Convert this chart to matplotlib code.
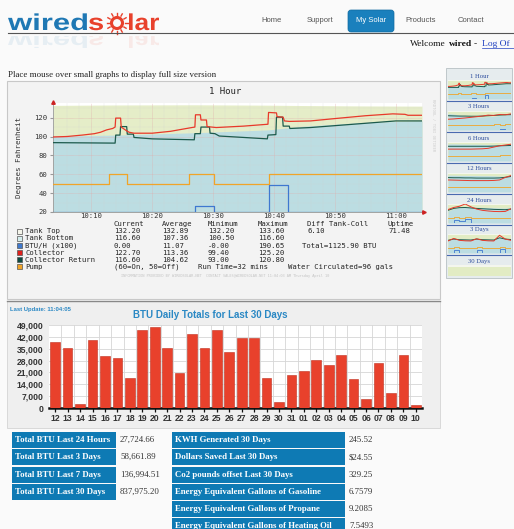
import numpy as np
import matplotlib.pyplot as plt
from matplotlib.patches import Rectangle, FancyBboxPatch, Circle, PathPatch
from matplotlib.textpath import TextPath
from matplotlib.font_manager import FontProperties
from matplotlib.transforms import Affine2D

W, H = 514, 529

# ---- 1 hour graph (minutes after 10:00, degrees F)
t_collector = [3.7, 6, 8.5, 10.5, 11.5, 12.5, 13.5, 13.9, 14.0, 14.8, 14.9, 15.8, 16.2, 17, 20, 23,
               26.5, 27.0, 27.1, 27.9, 28.0, 28.9, 29.0, 30.5, 35, 39, 39.1, 40.4, 40.5, 41.5, 41.7,
               42.5, 46, 50, 55, 59.5, 61.5, 62, 64.3]
collector = [99.5, 100, 101.5, 103, 104.5, 107, 108.5, 110, 119.5, 119.5, 110, 106, 104.5, 103.5, 103.5,
             105.5, 109.5, 110, 123, 123, 117.5, 117.5, 110.5, 109.5, 111, 113, 125.5, 125, 121, 120.5,
             116.5, 116, 116.5, 119, 122, 124, 123.5, 122.5, 122.5]
t_return = [3.7, 13.9, 14.0, 14.7, 14.8, 15.8, 15.9, 16.9, 17, 20, 26.9, 27.0, 27.9, 28.0, 29.4, 29.5,
            30.3, 31, 35, 38.9, 39.0, 40.3, 40.4, 41.4, 41.5, 42.5, 42.6, 46, 50, 55, 60, 64.3]
coll_return = [93.5, 93, 101.5, 101.5, 110.5, 110.5, 102.5, 102.5, 99, 97.5, 96.5, 103, 103, 110, 110,
               103.5, 103, 100.5, 99, 97.5, 101.5, 102, 120.5, 120.5, 111, 111, 108.5, 109.5, 111.5,
               114, 116.5, 116.5]
t_pump = [3.7, 12.9, 15.9, 26.0, 30.2, 39.2, 64.3]
pump = [50, 60, 50, 60, 50, 60, 60]
t_btu = [3.7, 27.0, 30.2, 39.1, 42.3, 64.3]
btu = [20.5, 26.7, 20.5, 48.4, 20.5, 20.5]
t_tank = [3.7, 14, 27, 39, 45, 55, 64.3]
tank_top = [133.0, 133.4, 133.6, 133.2, 132.8, 132.4, 132.2]
tank_bottom = [100.5, 101.5, 104, 107, 111, 115, 116.6]
hour_ticks = [10, 20, 30, 40, 50, 60]
hour_labels = ['10:10', '10:20', '10:30', '10:40', '10:50', '11:00']
deg_ticks = [20, 40, 60, 80, 100, 120]

legend_names = ['Tank Top', 'Tank Bottom', 'BTU/H (x100)', 'Collector', 'Collector Return', 'Pump']
legend_colors = ['#f4f4ea', '#d4ecec', '#3f78cc', '#e0201c', '#0c4a40', '#f0a428']
col_current = ['132.20', '116.60', '0.00', '122.70', '116.60']
col_average = ['132.89', '107.36', '11.07', '113.36', '104.62']
col_minimum = ['132.20', '100.50', '-0.00', '99.40', '93.00']
col_maximum = ['133.60', '116.60', '190.65', '125.20', '120.80']

# ---- daily totals
days = ['12', '13', '14', '15', '16', '17', '18', '19', '20', '21', '22', '23', '24', '25', '26',
        '27', '28', '29', '30', '31', '01', '02', '03', '04', '05', '06', '07', '08', '09', '10']
btu_daily = [39200, 35700, 2350, 40000, 30600, 29800, 17600, 46300, 47800, 35700, 20400, 43900,
             35300, 46300, 33300, 41600, 41600, 18000, 3500, 19600, 22000, 28600, 25100, 31000,
             16900, 5500, 26300, 8600, 31400, 1600]

# ---- summary tables
left_labels = ['Total BTU Last 24 Hours', 'Total BTU Last 3 Days', 'Total BTU Last 7 Days',
               'Total BTU Last 30 Days']
left_values = ['27,724.66', '58,661.89', '136,994.51', '837,975.20']
right_labels = ['KWH Generated 30 Days', 'Dollars Saved Last 30 Days', 'Co2 pounds offset Last 30 Days',
                'Energy Equivalent Gallons of Gasoline', 'Energy Equivalent Gallons of Propane',
                'Energy Equivalent Gallons of Heating Oil']
right_values = ['245.52', '$24.55', '329.25', '6.7579', '9.2085', '7.5493']

# ---- thumbnails (rough readings)
thumb_titles = ['1 Hour', '3 Hours', '6 Hours', '12 Hours', '24 Hours', '3 Days', '30 Days']
th3h_red = [88, 90, 93, 96, 100, 104, 108, 114, 112, 118, 116, 122]
th3h_ret = [110, 109, 108, 108, 107, 107, 108, 110, 112, 114, 116, 117]
th3h_bot = [124, 120, 114, 108, 104, 102, 102, 104, 107, 110, 114, 117]
th3h_pump = [50, 50, 50, 50, 50, 50, 50, 50, 56, 50, 60, 60]
th3h_btu = [20, 20, 20, 20, 20, 20, 20, 20, 20, 26, 20, 40]
th6h_red = [95, 95, 95, 95, 95, 96, 97, 100, 108, 116, 121, 126]
th6h_ret = [113, 113, 113, 113, 113, 113, 113, 113, 114, 116, 117, 118]
th6h_bot = [128, 128, 127, 127, 126, 126, 125, 124, 122, 120, 118, 117]
th6h_pump = [50, 50, 50, 50, 50, 50, 50, 50, 52, 55, 58, 60]
th6h_btu = [20, 20, 20, 20, 20, 20, 20, 20, 20, 20, 22, 40]
th12h_red = [96, 95, 94, 93, 92, 92, 92, 92, 93, 96, 112, 124]
th12h_ret = [111, 110, 110, 109, 109, 108, 108, 108, 108, 109, 113, 118]
th12h_bot = [126, 126, 125, 125, 124, 124, 123, 123, 122, 120, 118, 117]
th12h_pump = [50, 50, 50, 50, 50, 50, 50, 50, 50, 50, 54, 60]
th12h_btu = [20, 20, 20, 20, 20, 20, 20, 20, 20, 20, 20, 38]
th24h_red = [105, 118, 126, 140, 122, 108, 100, 96, 93, 92, 93, 110]
th24h_ret = [100, 112, 117, 118, 115, 112, 110, 108, 106, 105, 104, 108]
th24h_bot = [96, 110, 118, 120, 120, 119, 118, 117, 116, 115, 114, 116]
th24h_pump = [50, 60, 50, 60, 50, 50, 50, 50, 50, 50, 50, 60]
th24h_btu = [20, 40, 34, 46, 20, 20, 20, 20, 20, 20, 20, 24]
th3d_red = [96, 112, 100, 97, 96, 110, 100, 97, 96, 132, 108, 100]
th3d_ret = [100, 108, 104, 103, 102, 108, 104, 103, 102, 116, 108, 105]
th3d_bot = [104, 110, 108, 107, 106, 110, 108, 107, 106, 118, 112, 110]
th3d_pump = [50, 60, 50, 50, 50, 60, 50, 50, 50, 60, 50, 50]
th3d_btu = [20, 40, 20, 20, 20, 38, 20, 20, 20, 44, 20, 20]


def place(x0, y0, x1, y1):
    return [x0 / W, 1 - y1 / H, (x1 - x0) / W, (y1 - y0) / H]


fig = plt.figure(figsize=(W / 100, H / 100), dpi=100, facecolor='#fafafa')
bg = fig.add_axes([0, 0, 1, 1], zorder=0)
bg.set_xlim(0, W)
bg.set_ylim(H, 0)
bg.axis('off')

# ---- logo
fp = FontProperties(family='Liberation Sans', weight='bold')


def logo_word(s, x, base, width, color, mirror=False):
    tp = TextPath((0, 0), s, size=23, prop=fp)
    ext = tp.get_extents()
    sx = width / ext.width
    if mirror:
        tr = Affine2D().translate(-ext.x0, 0).scale(sx, 0.9).translate(x, base + 4)
    else:
        tr = Affine2D().translate(-ext.x0, 0).scale(sx, -1).translate(x, base)
    p = PathPatch(tr.transform_path(tp), color=color, lw=0, alpha=0.09 if mirror else 1)
    bg.add_patch(p)
    if mirror:
        p.set_clip_path(Rectangle((0, 36), 200, 12, transform=bg.transData))


for m in (False, True):
    logo_word('wired', 8, 30, 79, '#1f78b4', m)
    logo_word('s', 89, 30, 14, '#e8412c', m)
    logo_word('lar', 129, 30, 30, '#e8412c', m)
sun_x, sun_y = 117, 23
bg.add_patch(Circle((sun_x, sun_y), 5.5, fill=False, ec='#e8412c', lw=2.2))
for a in np.linspace(0, 2 * np.pi, 12, endpoint=False):
    bg.plot([sun_x + 8 * np.cos(a), sun_x + 10.5 * np.cos(a)],
            [sun_y + 8 * np.sin(a), sun_y + 10.5 * np.sin(a)], color='#e8412c', lw=1.0)
bg.plot([8, 514], [32.5, 32.5], color='#555555', lw=0.8)

# ---- navigation
bg.add_patch(FancyBboxPatch((348, 10), 46, 22, boxstyle='round,pad=0,rounding_size=3',
                            fc='#1a80bd', ec='#0f6aa0', lw=0.5))
bg.text(371, 20, 'My Solar', color='white', fontsize=5.5, ha='center', va='center', family='Liberation Sans')
for name, x in [('Home', 271), ('Support', 320), ('Products', 421), ('Contact', 471)]:
    bg.text(x, 20, name, color='#555555', fontsize=5.5, ha='center', va='center', family='Liberation Sans')

serif = 'Liberation Serif'
bg.text(410, 44, 'Welcome', fontsize=6.8, va='center', family=serif, color='#111111')
bg.text(449, 44, 'wired', fontsize=6.8, va='center', family=serif, weight='bold', color='#111111')
bg.text(474, 44, '-', fontsize=6.8, va='center', family=serif, color='#111111')
bg.text(482, 44, 'Log Of', fontsize=6.8, va='center', family=serif, color='#2040c0')
bg.plot([482, 514], [48, 48], color='#2040c0', lw=0.5)

bg.text(8, 75, 'Place mouse over small graphs to display full size version', fontsize=6.4,
        va='center', family=serif, color='#222222')

# ---- main graph panel
bg.add_patch(Rectangle((7, 81), 433, 218, fc='#f3f3f3', ec='#c8c8c8', lw=0.8))
bg.text(225, 92, '1 Hour', fontsize=6.5, ha='center', va='center', family='DejaVu Sans Mono', color='#222222')
bg.text(19, 158, 'Degrees Fahrenheit', fontsize=5.4, rotation=90, ha='center', va='center',
        family='DejaVu Sans Mono', color='#333333')
bg.text(433, 125, 'RRDTOOL / TOBI OETIKER', fontsize=2.8, rotation=270, ha='center', va='center',
        family='DejaVu Sans Mono', color='#cccccc')

ax = fig.add_axes(place(53, 103, 422, 212), zorder=2)
ax.set_facecolor('white')
ax.fill_between(t_tank, 20, tank_top, color='#e5edc8', lw=0, zorder=1)
ax.fill_between(t_tank, 20, tank_bottom, color='#bcdde2', lw=0, zorder=1)
ax.set_xticks(np.arange(6, 64, 2), minor=True)
ax.set_yticks([30, 50, 70, 90, 110, 130], minor=True)
ax.grid(which='minor', color='#d2d2d2', lw=0.3, ls=(0, (1, 1)), zorder=2)
ax.grid(which='major', color='#e0aaaa', lw=0.4, ls=(0, (1, 1)), zorder=2)
ax.plot(t_pump, pump, drawstyle='steps-post', color='#f0a428', lw=0.9, zorder=3)
ax.plot(t_btu, btu, drawstyle='steps-post', color='#3f78d0', lw=0.9, zorder=3)
ax.plot(t_return, coll_return, color='#1c5a4c', lw=0.9, zorder=4)
ax.plot(t_collector, collector, color='#e8392a', lw=0.9, zorder=5)
ax.set_xlim(3.7, 64.3)
ax.set_ylim(20, 135.5)
ax.set_xticks(hour_ticks)
ax.set_xticklabels(hour_labels)
ax.set_yticks(deg_ticks)
for s in ['top', 'right']:
    ax.spines[s].set_visible(False)
for s in ['left', 'bottom']:
    ax.spines[s].set_color('#999999')
    ax.spines[s].set_linewidth(0.6)
ax.tick_params(which='both', length=0, labelsize=5.2, colors='#333333', pad=1)
ax.tick_params(which='major', axis='y', length=2, color='#999999', pad=2)
for lab in ax.get_xticklabels() + ax.get_yticklabels():
    lab.set_family('DejaVu Sans Mono')
ax.plot([3.7], [136.5], marker='^', color='#cc2222', ms=2.5, clip_on=False, zorder=6)
ax.plot([64.6], [20], marker='>', color='#cc2222', ms=2.5, clip_on=False, zorder=6)

# legend table
mono = dict(fontsize=5.2, family='DejaVu Sans Mono', color='#222222', va='center')
for x, h in [(114, 'Current'), (162, 'Average'), (208, 'Minimum'), (258, 'Maximum'),
             (307, 'Diff Tank-Coll'), (388, 'Uptime')]:
    bg.text(x, 224, h, **mono)
rows_y = [231.3, 238.4, 245.5, 252.6, 259.7, 266.8]
for i, (name, c) in enumerate(zip(legend_names, legend_colors)):
    y = rows_y[i]
    bg.add_patch(Rectangle((17, y - 2.5), 5, 5, fc=c, ec='#555555', lw=0.5))
    bg.text(25, y, name, **mono)
for i in range(5):
    y = rows_y[i]
    bg.text(114, y, col_current[i], **mono)
    bg.text(162, y, col_average[i], **mono)
    bg.text(208, y, col_minimum[i], **mono)
    bg.text(258, y, col_maximum[i], **mono)
bg.text(307, rows_y[0], '6.10', **mono)
bg.text(388, rows_y[0], '71.48', **mono)
bg.text(302, rows_y[2], 'Total=1125.90 BTU', **mono)
bg.text(114, rows_y[5], '(60=On, 50=Off)', **mono)
bg.text(198, rows_y[5], 'Run Time=32 mins', **mono)
bg.text(288, rows_y[5], 'Water Circulated=96 gals', **mono)
bg.text(225, 275.5, 'INFORMATION PROVIDED BY WIREDSOLAR.NET  CONTACT SALES@WIREDSOLAR.NET 11:04:03 AM Thursday April 10',
        fontsize=2.6, ha='center', va='center', family='DejaVu Sans Mono', color='#c4c4c4')

# ---- bar chart panel
bg.add_patch(Rectangle((7, 301), 433, 127, fc='#efefef', ec='#d4d4d4', lw=0.6))
bg.plot([7, 440], [300.5, 300.5], color='#888888', lw=1.0)
bg.text(10, 310, 'Last Update: 11:04:05', fontsize=4.2, weight='bold', color='#2a88c4',
        va='center', family='Liberation Sans')
bg.text(210, 315, 'BTU Daily Totals for Last 30 Days', fontsize=7, weight='bold', color='#2a88c4',
        ha='center', va='center', family='Liberation Sans')

ax2 = fig.add_axes(place(49, 325, 422, 408), zorder=2)
ax2.set_facecolor('white')
ax2.bar(range(len(days)), btu_daily, width=0.78, color='#e8412c', edgecolor='#c03020', lw=0.4, zorder=3)
ax2.set_xlim(-0.5, len(days) - 0.5)
ax2.set_ylim(0, 49000)
ax2.set_yticks(range(0, 49001, 7000))
ax2.set_yticklabels([f'{v:,}' for v in range(0, 49001, 7000)])
ax2.set_xticks(range(len(days)))
ax2.set_xticklabels(days)
ax2.set_xticks(np.arange(len(days)) + 0.5, minor=True)
ax2.grid(which='major', axis='y', color='#d6d6d6', lw=0.6, zorder=0)
ax2.grid(which='minor', axis='x', color='#d6d6d6', lw=0.6, zorder=0)
for s in ['top', 'right', 'left']:
    ax2.spines[s].set_visible(False)
ax2.spines['bottom'].set_linewidth(1.8)
ax2.spines['bottom'].set_color('#111111')
ax2.tick_params(axis='y', length=0, pad=4, labelsize=6.2, colors='#333333')
ax2.tick_params(axis='x', which='major', length=3, width=0.9, color='#111111', pad=1.5,
                labelsize=6.2, labelcolor='#333333')
ax2.tick_params(axis='x', which='minor', length=0)
for lab in ax2.get_xticklabels() + ax2.get_yticklabels():
    lab.set_family('Liberation Sans')
    lab.set_weight('bold')

# ---- summary tables
cell = '#0e7ab4'
row_tops = [432, 449, 467, 484, 501, 518]
for i, (lab, val) in enumerate(zip(left_labels, left_values)):
    y = row_tops[i]
    bg.add_patch(Rectangle((12, y), 104, 16, fc=cell, lw=0))
    bg.text(15, y + 8, lab, fontsize=6.3, weight='bold', color='white', va='center', family=serif)
    bg.text(120, y + 8, val, fontsize=6.3, color='#333333', va='center', family=serif)
for i, (lab, val) in enumerate(zip(right_labels, right_values)):
    y = row_tops[i]
    bg.add_patch(Rectangle((172, y), 173, 16, fc=cell, lw=0))
    bg.text(175, y + 8, lab, fontsize=6.3, weight='bold', color='white', va='center', family=serif)
    bg.text(349, y + 8, val, fontsize=6.3, color='#333333', va='center', family=serif)

# ---- thumbnails
bg.add_patch(Rectangle((446, 68), 66, 210, fc='#e6ecee', ec='#b8c0c4', lw=0.6))
label_y = [76, 107, 138, 169, 200, 230, 261]
thumb_data = [
    (t_collector, collector, t_return, coll_return, t_tank, tank_bottom, t_pump, pump, t_btu, btu),
    (None, th3h_red, None, th3h_ret, None, th3h_bot, None, th3h_pump, None, th3h_btu),
    (None, th6h_red, None, th6h_ret, None, th6h_bot, None, th6h_pump, None, th6h_btu),
    (None, th12h_red, None, th12h_ret, None, th12h_bot, None, th12h_pump, None, th12h_btu),
    (None, th24h_red, None, th24h_ret, None, th24h_bot, None, th24h_pump, None, th24h_btu),
    (None, th3d_red, None, th3d_ret, None, th3d_bot, None, th3d_pump, None, th3d_btu),
]
for k, (title, ly) in enumerate(zip(thumb_titles, label_y)):
    bg.text(479, ly, title, fontsize=4.8, ha='center', va='center', family=serif, color='#2a4a9c')
    y1 = min(ly + 23, 276)
    tax = fig.add_axes(place(448, ly + 4, 511, y1), zorder=2)
    tax.set_facecolor('#f4f6ee')
    tax.set_xticks([])
    tax.set_yticks([])
    for s in tax.spines.values():
        s.set_visible(False)
    tax.set_ylim(20, 140)
    tax.axhspan(20, 134, color='#e2ecc4', lw=0)
    if k < len(thumb_data):
        tr, red, tt, ret, tb, bot, tp, pm, tbt, bt = thumb_data[k]
        n = len(red)
        xs = lambda t, arr: t if t is not None else range(len(arr))
        tax.fill_between(xs(tb, bot), 20, bot, color='#bcdde2', lw=0)
        tax.plot(xs(tp, pm), pm, drawstyle='steps-post', color='#f0a428', lw=0.6)
        tax.plot(xs(tbt, bt), bt, drawstyle='steps-post', color='#3f78d0', lw=0.6)
        tax.plot(xs(tt, ret), ret, color='#1c5a4c', lw=0.7)
        tax.plot(xs(tr, red), red, color='#e8392a', lw=0.7)
        if tr is None:
            tax.set_xlim(0, n - 1)
        else:
            tax.set_xlim(3.7, 64.3)
        bg.plot([447, 511], [ly + 24.5, ly + 24.5], color='#4a6ab0', lw=0.8)
    else:
        tax.set_xlim(0, 1)
        tax.set_ylim(100, 140)

fig.savefig('out.png', dpi=100, facecolor=fig.get_facecolor())
